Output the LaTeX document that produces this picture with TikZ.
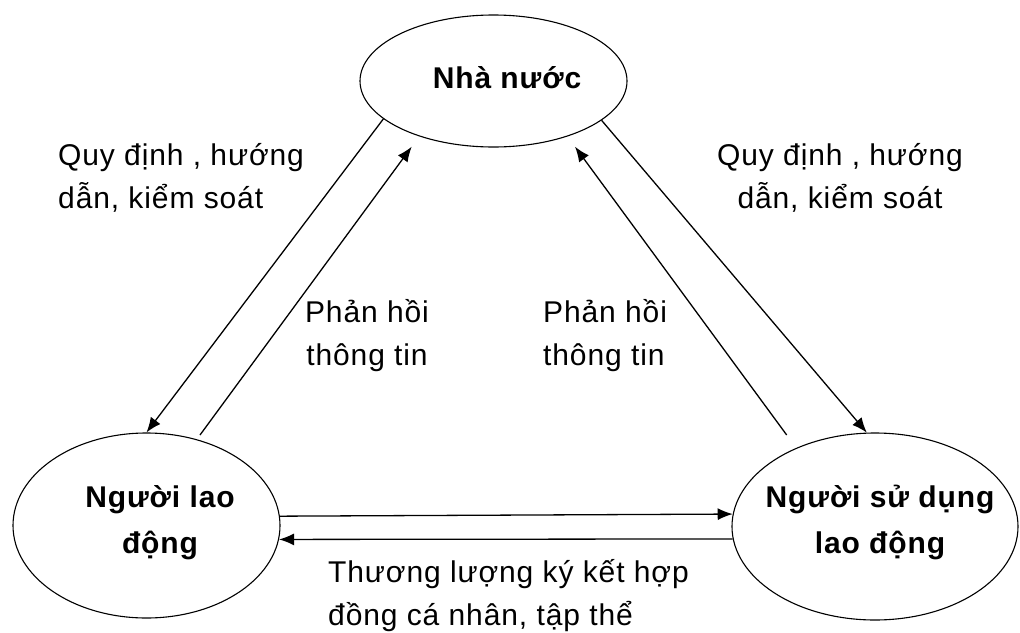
\documentclass[tikz,border=0pt]{standalone}
\usepackage{fontspec}
\setmainfont{Liberation Sans}[LetterSpace=3]
\usetikzlibrary{arrows.meta,calc,shapes.geometric}
\newcommand{\notefont}{\fontsize{30}{43}\selectfont\lineskiplimit=-100pt\relax}
\newcommand{\titlefont}{\bfseries\fontsize{30}{46}\selectfont\lineskiplimit=-100pt\relax}
\begin{document}
\begin{tikzpicture}[x=1pt,y=-1pt,
  party/.style={ellipse,draw,line width=1.1pt,inner sep=0pt},
  link/.style={line width=1.3pt,-{Latex[length=15pt,width=12pt]}},
  note/.style={inner sep=0pt,font=\notefont},
  title/.style={inner sep=0pt,align=center,font=\titlefont}]
\useasboundingbox (0,0) rectangle (1020,632);
% the three parties
\node[party,minimum width=267pt,minimum height=132pt] (state) at (493.5,81) {};
\node[party,minimum width=267pt,minimum height=185pt] (worker) at (146.5,525.5) {};
\node[party,minimum width=286pt,minimum height=187pt] (employer) at (875,526.5) {};
\node[title,anchor=base] (stateT) at (507,88) {Nhà nước};
\node[title,anchor=base] (workerT) at (160,553) {Người lao\\động};
\node[title,anchor=base] (employerT) at (880,553) {Người sử dụng\\lao động};
% regulation and feedback links
\draw[link] (state.199.8) -- (worker.90);
\draw[link] (state.340.2) -- (employer.95);
\draw[link] ($(worker.center)+(53.5,-90.5)$) -- ($(state.center)+(-81.8,65.7)$);
\draw[link] ($(employer.center)+(-88.3,-91.5)$) -- ($(state.center)+(81.5,65.7)$);
% negotiation between the two parties
\draw[link] (worker.4.96) -- (employer.175);
\draw[link] (employer.185.4) -- (worker.-6.27);
% labels
\node[note,align=left,anchor=base west] (regL) at (58,208) {Quy định , hướng\\dẫn, kiểm soát};
\node[note,align=center,anchor=base] (regR) at (840,208) {Quy định , hướng\\dẫn, kiểm soát};
\node[note,align=center,anchor=base] (fbL) at (367,365) {Phản hồi\\thông tin};
\node[note,align=left,anchor=base west] (fbR) at (543,365) {Phản hồi\\thông tin};
\node[note,align=left,anchor=base west] (neg) at (328,625) {Thương lượng ký kết hợp\\đồng cá nhân, tập thể};
\end{tikzpicture}
\end{document}
